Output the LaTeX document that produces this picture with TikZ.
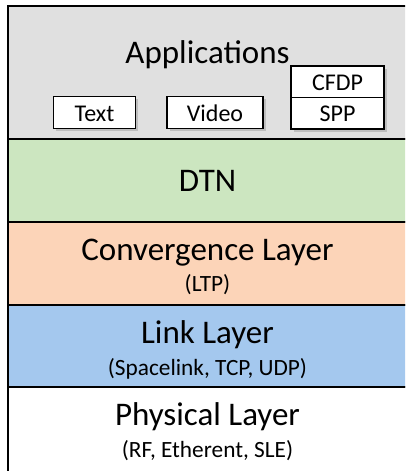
\documentclass[tikz,border=0pt]{standalone}
\usepackage{fontspec}
\setmainfont{Carlito}
\usetikzlibrary{shadows}
\definecolor{appgray}{HTML}{E0E0E0}
\definecolor{dtngreen}{HTML}{CCE6C0}
\definecolor{convpeach}{HTML}{FCD4B8}
\definecolor{linkblue}{HTML}{A4C8EE}
\tikzset{
  layer/.style={draw=black, line width=2pt},
  big/.style={anchor=base, inner sep=0pt, font=\fontsize{33}{39}\selectfont},
  sub/.style={anchor=base, inner sep=0pt, font=\fontsize{23.3}{28}\selectfont},
  appbox/.style={draw=black, line width=1.5pt, fill=white, inner sep=0pt,
    drop shadow={shadow xshift=2.5pt, shadow yshift=-2.5pt, opacity=0.35}},
  boxtext/.style={anchor=base, inner sep=0pt, font=\fontsize{24}{29}\selectfont}
}
\begin{document}
\begin{tikzpicture}[x=1pt,y=-1pt]
\useasboundingbox (0,0) rectangle (405,471);
\clip (0,0) rectangle (405,471);
\fill[white] (0,0) rectangle (405,471);
% layers
\draw[layer, fill=appgray] (7.5,6) rectangle (420,138.5);
\draw[layer, fill=dtngreen] (7.5,138.5) rectangle (420,221.5);
\draw[layer, fill=convpeach] (7.5,221.5) rectangle (420,304.5);
\draw[layer, fill=linkblue] (7.5,304.5) rectangle (420,387);
\draw[layer, fill=white] (7.5,387) rectangle (420,490);
% labels
\node[big] (apps) at (207.5,63.3) {Applications};
\node[big] (dtn) at (207.5,191.7) {DTN};
\node[big] (conv) at (207.5,260) {Convergence Layer};
\node[sub] (ltp) at (207.5,291.7) {(LTP)};
\node[big] (link) at (207.5,343.3) {Link Layer};
\node[sub] (linksub) at (207.5,375) {(Spacelink, TCP, UDP)};
\node[big] (phys) at (207.5,425) {Physical Layer};
\node[sub] (physsub) at (207.5,457.3) {(RF, Etherent, SLE)};
% application boxes
\node[appbox, minimum width=82pt, minimum height=32pt] (textbox) at (94.5,112.5) {};
\node[boxtext] (texttxt) at (94.5,121.7) {Text};
\node[appbox, minimum width=96pt, minimum height=32pt] (videobox) at (215,112.5) {};
\node[boxtext] (videotxt) at (215,121.7) {Video};
\node[appbox, minimum width=93pt, minimum height=63pt] (stackbox) at (337.5,97.5) {};
\draw[line width=1.5pt] (stackbox.west) -- (stackbox.east);
\node[boxtext] (cfdp) at (337.5,90.7) {CFDP};
\node[boxtext] (spp) at (337.5,121.7) {SPP};
\end{tikzpicture}
\end{document}
